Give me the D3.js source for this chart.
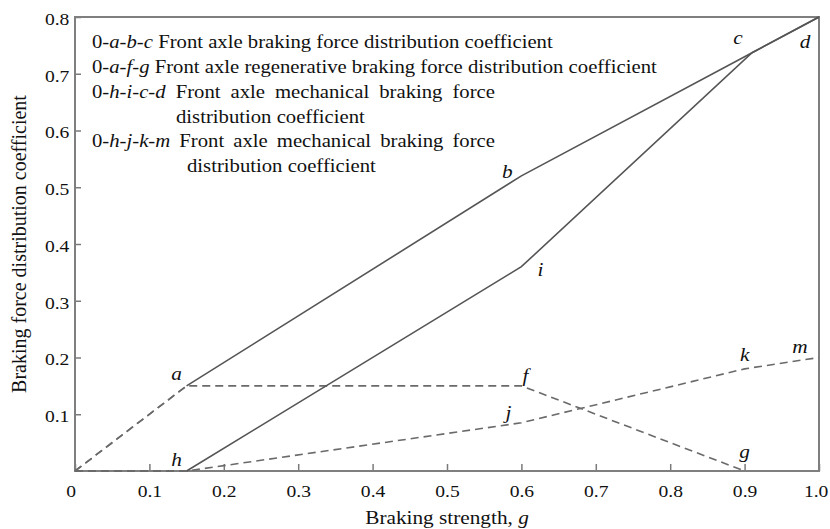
<!DOCTYPE html>
<html>
<head>
<meta charset="utf-8">
<script src="https://cdn.jsdelivr.net/npm/d3@7"></script>
<style>
  body { margin: 0; background: #fff; }
  svg { display: block; }
  text { font-family: "Liberation Serif", "Times New Roman", serif; fill: #111; }
</style>
</head>
<body>
<div id="chart"></div>
<script>
// ---- data ----
// 0-a-b-c(-d): front axle braking force distribution coefficient
const totalX = [0, 0.15, 0.6, 0.91, 1.0];
const totalY = [0, 0.15, 0.52, 0.737, 0.8];
// 0-a-f-g: front axle regenerative
const regenX = [0, 0.15, 0.6, 0.9];
const regenY = [0, 0.15, 0.15, 0];
// 0-h-i-c-d: front axle mechanical
const mechX = [0, 0.15, 0.6, 0.91, 1.0];
const mechY = [0, 0, 0.36, 0.737, 0.8];
// 0-h-j-k-m
const mech2X = [0, 0.15, 0.6, 0.9, 1.0];
const mech2Y = [0, 0, 0.085, 0.18, 0.2];

const pointNames = ["a", "b", "c", "d", "f", "g", "h", "i", "j", "k", "m"];
const pointX = [0.15, 0.6, 0.91, 1.0, 0.6, 0.9, 0.15, 0.6, 0.6, 0.9, 1.0];
const pointY = [0.15, 0.52, 0.737, 0.8, 0.15, 0, 0, 0.36, 0.085, 0.18, 0.2];

const xTicks = [0, 0.1, 0.2, 0.3, 0.4, 0.5, 0.6, 0.7, 0.8, 0.9, 1.0];
const xTickLabels = ["0", "0.1", "0.2", "0.3", "0.4", "0.5", "0.6", "0.7", "0.8", "0.9", "1.0"];
const yTicks = [0.1, 0.2, 0.3, 0.4, 0.5, 0.6, 0.7, 0.8];
const yTickLabels = ["0.1", "0.2", "0.3", "0.4", "0.5", "0.6", "0.7", "0.8"];

const legendCodes = [["a", "b", "c"], ["a", "f", "g"], ["h", "i", "c", "d"], ["h", "j", "k", "m"]];
const legendLine1 = [
  "Front axle braking force distribution coefficient",
  "Front axle regenerative braking force distribution coefficient",
  "Front axle mechanical braking force",
  "Front axle mechanical braking force"
];
const legendLine2 = ["", "", "distribution coefficient", "distribution coefficient"];

const xTitle = "Braking strength, ";
const xTitleVar = "g";
const yTitle = "Braking force distribution coefficient";

// ---- layout ----
const W = 830, H = 529;
const margin = {top: 17, right: 11, bottom: 58, left: 75};
const sx = 1.12;   // the figure's type is a little wide

const svg = d3.select("#chart").append("svg")
  .attr("width", W).attr("height", H);

const x = d3.scaleLinear().domain([0, 1]).range([margin.left, W - margin.right]);
const y = d3.scaleLinear().domain([0, 0.8]).range([H - margin.bottom, margin.top]);

// axes (ticks point inward)
let xAxis = svg.append("g")
  .attr("transform", "translate(0," + y(0) + ")")
  .call(d3.axisBottom(x).tickValues(xTicks).tickSize(-7).tickPadding(14)
    .tickFormat((d, i) => xTickLabels[i]));
let yAxis = svg.append("g")
  .attr("transform", "translate(" + x(0) + ",0)")
  .call(d3.axisLeft(y).tickValues(yTicks).tickSize(-6).tickPadding(5)
    .tickFormat((d, i) => yTickLabels[i]));

[xAxis, yAxis].forEach(g => {
  g.select(".domain").remove();
  g.selectAll(".tick line").attr("stroke", "#7a7a7a").attr("stroke-width", 1.5);
  g.selectAll(".tick text")
    .attr("font-family", null)
    .style("font-size", "17.5px")
    .attr("fill", "#111")
    .attr("transform", "scale(" + sx + ",1)");
});
yAxis.selectAll(".tick text").attr("dy", "0.42em");
xAxis.selectAll(".tick text").filter((d, i) => i === 0).attr("x", -4);
xAxis.selectAll(".tick text").filter((d, i) => i === xTicks.length - 1).attr("x", -3);

// frame
svg.append("rect")
  .attr("x", x(0)).attr("y", y(0.8))
  .attr("width", x(1) - x(0)).attr("height", y(0) - y(0.8))
  .attr("fill", "none").attr("stroke", "#7f7f7f").attr("stroke-width", 2);

// lines
let line = d3.line().x(d => x(d[0])).y(d => y(d[1]));
let pts = (xs, ys) => xs.map((v, i) => [v, ys[i]]);

let drawPath = (data, dashed) => {
  svg.append("path")
    .attr("d", line(data))
    .attr("fill", "none")
    .attr("stroke", dashed ? "#6a6a6a" : "#555")
    .attr("stroke-width", 1.6)
    .attr("stroke-dasharray", dashed ? "8,5" : null);
};

let total = pts(totalX, totalY);
drawPath(total.slice(0, 2), true);
drawPath(total.slice(1), false);

drawPath(pts(regenX, regenY), true);

let mech = pts(mechX, mechY);
drawPath(mech.slice(0, 2), true);
drawPath(mech.slice(1), false);

drawPath(pts(mech2X, mech2Y), true);

// point letters
const labelOffset = {
  a: [-10, -5.5], b: [-14, 2.5], c: [-14, -9], d: [-14, 31], f: [4, -4],
  g: [0, -13], h: [-10, -5.5], i: [19, 9], j: [-13, -4], k: [0, -7.5], m: [-19, -5]
};
pointNames.forEach((n, i) => {
  let px = x(pointX[i]) + labelOffset[n][0];
  let py = y(pointY[i]) + labelOffset[n][1];
  svg.append("text")
    .attr("transform", "translate(" + px + "," + py + ") scale(" + sx + ",1)")
    .attr("text-anchor", "middle")
    .style("font-size", "19px")
    .style("font-style", "italic")
    .text(n);
});

// legend
const legendX = 92, legendRight = 495;
const base1 = [48, 73, 98, 147];
const base2 = [0, 0, 123, 172];
const indent2 = [0, 0, 176, 187];

legendCodes.forEach((codes, r) => {
  let t = svg.append("text")
    .attr("transform", "translate(" + legendX + "," + base1[r] + ") scale(" + sx + ",1)")
    .style("font-size", "18.5px");
  t.append("tspan").text("0");
  codes.forEach(c => {
    t.append("tspan").text("-");
    t.append("tspan").style("font-style", "italic").text(c);
  });
  t.append("tspan").text(" " + legendLine1[r]);

  if (legendLine2[r]) {
    // justified first line, as in the figure
    let natural = t.node().getComputedTextLength();
    let target = (legendRight - legendX) / sx;
    let spaces = (" " + legendLine1[r]).split(" ").length - 1;
    t.style("word-spacing", ((target - natural) / spaces) + "px");

    svg.append("text")
      .attr("transform", "translate(" + indent2[r] + "," + base2[r] + ") scale(" + sx + ",1)")
      .style("font-size", "18.5px")
      .text(legendLine2[r]);
  }
});

// axis titles
let xt = svg.append("text")
  .attr("transform", "translate(" + ((x(0) + x(1)) / 2) + ",524) scale(" + sx + ",1)")
  .attr("text-anchor", "middle")
  .style("font-size", "19px");
xt.append("tspan").text(xTitle);
xt.append("tspan").style("font-style", "italic").text(xTitleVar);

svg.append("text")
  .attr("transform", "translate(26," + ((y(0) + y(0.8)) / 2) + ") rotate(-90) scale(1,1.1)")
  .attr("text-anchor", "middle")
  .style("font-size", "20px")
  .text(yTitle);
</script>
</body>
</html>
